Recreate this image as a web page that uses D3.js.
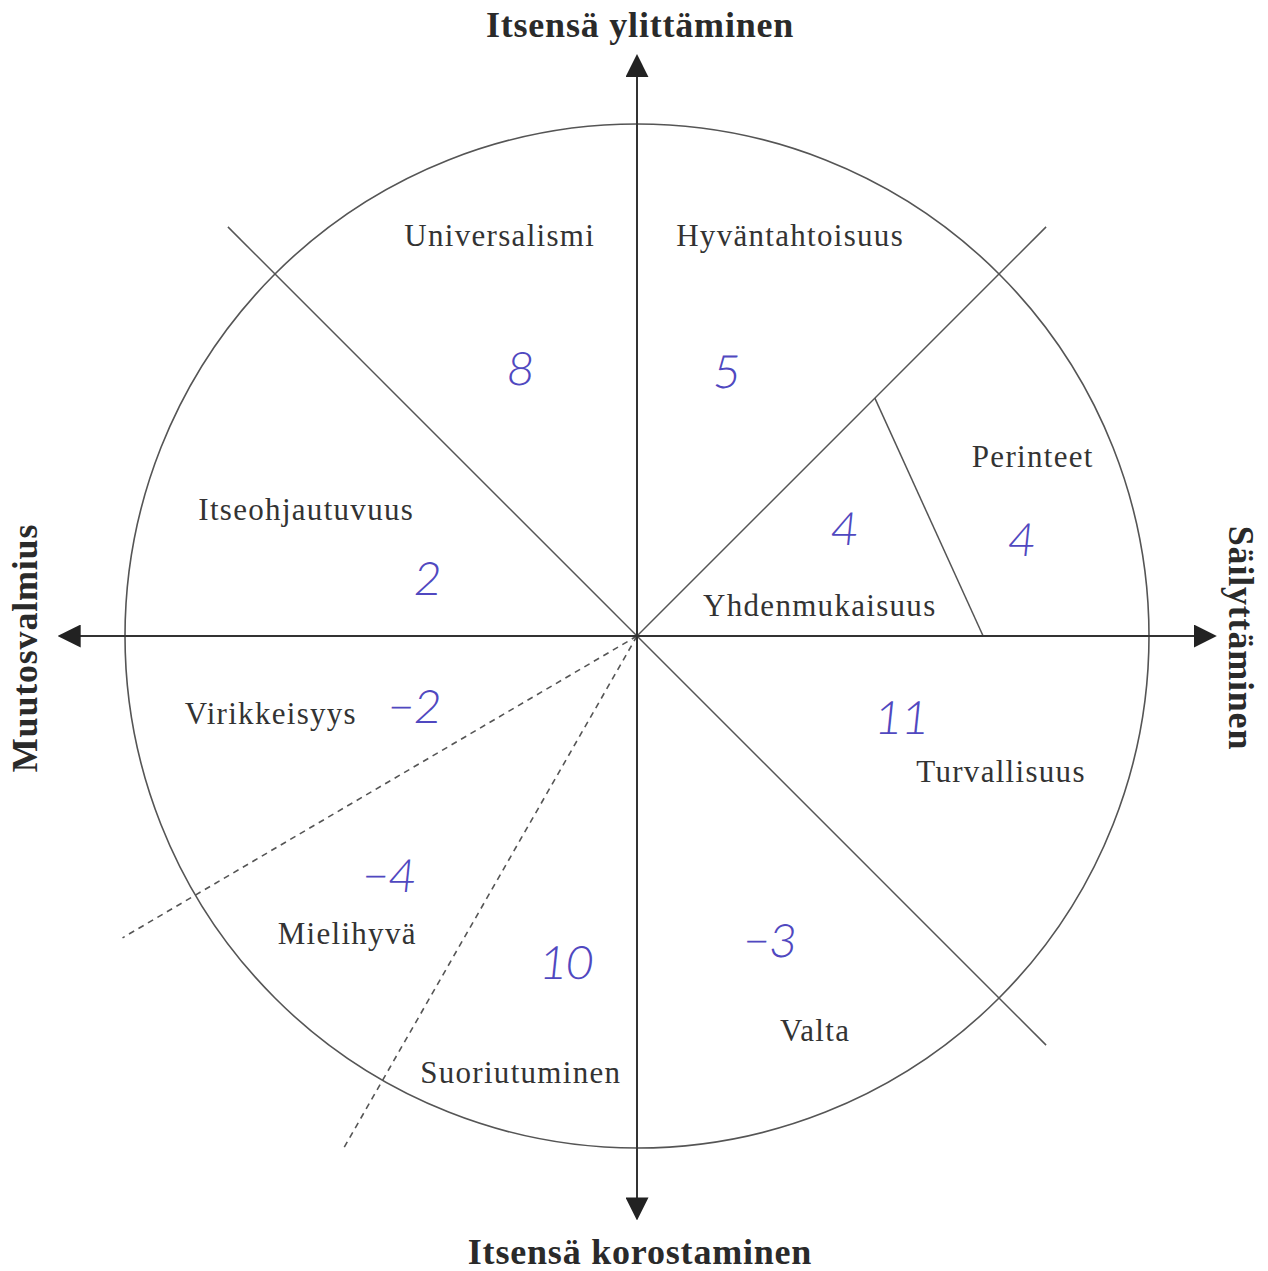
<!DOCTYPE html>
<html>
<head>
<meta charset="utf-8">
<script src="https://cdn.jsdelivr.net/npm/d3@7"></script>
<style>
  body { margin: 0; background: #fff; }
  svg { display: block; }
</style>
</head>
<body>
<div id="chart"></div>
<script>
(function(){
    "use strict";

    // values of the circle and the handwritten scores
    var valueNames = ["Universalismi", "Hyväntahtoisuus", "Itseohjautuvuus", "Perinteet", "Yhdenmukaisuus",
                      "Virikkeisyys", "Turvallisuus", "Mielihyvä", "Suoriutuminen", "Valta"];
    var valueScores = [8, 5, 2, 4, 4, -2, 11, -4, 10, -3];

    // the four axis poles (top, bottom, left, right)
    var poleNames = ["Itsensä ylittäminen", "Itsensä korostaminen", "Muutosvalmius", "Säilyttäminen"];

    // layout: where labels / numbers sit, in circle units (x right, y up)
    var labelPos = [[-0.268, 0.783], [0.299, 0.783], [-0.646, 0.248], [0.773, 0.352], [0.357, 0.061],
                    [-0.715, -0.150], [0.711, -0.264], [-0.566, -0.580], [-0.227, -0.852], [0.348, -0.770]];
    var scorePos = [[-0.227, 0.523], [0.176, 0.516], [-0.408, 0.113], [0.406, 0.211], [0.752, 0.188],
                    [-0.434, -0.137], [0.518, -0.160], [-0.484, -0.467], [-0.137, -0.637], [0.260, -0.594]];

    var width = 1268, height = 1271;
    var cx = 637, cy = 636, R = 512;

    var x = d3.scaleLinear().domain([-1, 1]).range([cx - R, cx + R]);
    var y = d3.scaleLinear().domain([1, -1]).range([cy - R, cy + R]);

    function polar(deg, r) {
        var a = deg * Math.PI / 180;
        return [x(r * Math.cos(a)), y(r * Math.sin(a))];
    }

    var svg = d3.select("#chart").append("svg")
        .attr("width", width)
        .attr("height", height);

    // arrow head for the axes
    svg.append("defs").append("marker")
        .attr("id", "arrow")
        .attr("viewBox", "0 0 10 10")
        .attr("refX", 9).attr("refY", 5)
        .attr("markerWidth", 23).attr("markerHeight", 23)
        .attr("markerUnits", "userSpaceOnUse")
        .attr("orient", "auto")
        .append("path")
        .attr("d", "M0,0 L10,5 L0,10 Z")
        .attr("fill", "#222");

    // circle
    svg.append("circle")
        .attr("cx", x(0)).attr("cy", y(0))
        .attr("r", x(1) - x(0))
        .attr("fill", "none")
        .attr("stroke", "#555")
        .attr("stroke-width", 1.6);

    // solid dividers
    var solid = [
        [polar(135, 1.13), polar(-45, 1.13)],
        [polar(0, 0), polar(45, 1.13)],
        [polar(45, 0.657), polar(0, 0.676)]
    ];
    svg.selectAll(".divider")
        .data(solid)
        .enter().append("line")
        .attr("class", "divider")
        .attr("x1", function(d) { return d[0][0]; })
        .attr("y1", function(d) { return d[0][1]; })
        .attr("x2", function(d) { return d[1][0]; })
        .attr("y2", function(d) { return d[1][1]; })
        .attr("stroke", "#555")
        .attr("stroke-width", 1.5);

    // dashed dividers
    var dashed = [[210.4, 1.165], [240.2, 1.16]];
    svg.selectAll(".dashed")
        .data(dashed)
        .enter().append("line")
        .attr("class", "dashed")
        .attr("x1", x(0)).attr("y1", y(0))
        .attr("x2", function(d) { return polar(d[0], d[1])[0]; })
        .attr("y2", function(d) { return polar(d[0], d[1])[1]; })
        .attr("stroke", "#555")
        .attr("stroke-width", 1.6)
        .attr("stroke-dasharray", "6,5");

    // axes with arrows
    var axes = [[90, 1.132], [270, 1.137], [180, 1.127], [0, 1.128]];
    svg.selectAll(".axis")
        .data(axes)
        .enter().append("line")
        .attr("class", "axis")
        .attr("x1", x(0)).attr("y1", y(0))
        .attr("x2", function(d) { return polar(d[0], d[1])[0]; })
        .attr("y2", function(d) { return polar(d[0], d[1])[1]; })
        .attr("stroke", "#333")
        .attr("stroke-width", 2)
        .attr("marker-end", "url(#arrow)");

    // pole titles
    var serif = "'Liberation Serif', 'Times New Roman', serif";
    var poles = [
        {t: poleNames[0], x: x(0) + 3, y: 37, rot: 0},
        {t: poleNames[1], x: x(0) + 3, y: 1264, rot: 0},
        {t: poleNames[2], x: 37, y: 648, rot: -90},
        {t: poleNames[3], x: 1229, y: 638, rot: 90}
    ];
    svg.selectAll(".pole")
        .data(poles)
        .enter().append("text")
        .attr("class", "pole")
        .attr("transform", function(d) { return "translate(" + d.x + "," + d.y + ") rotate(" + d.rot + ")"; })
        .attr("text-anchor", "middle")
        .attr("font-family", serif)
        .attr("font-weight", "bold")
        .attr("font-size", 36)
        .attr("letter-spacing", 0.8)
        .attr("fill", "#2a2a2a")
        .text(function(d) { return d.t; });

    // value labels
    svg.selectAll(".vlabel")
        .data(valueNames)
        .enter().append("text")
        .attr("class", "vlabel")
        .attr("x", function(d, i) { return x(labelPos[i][0]); })
        .attr("y", function(d, i) { return y(labelPos[i][1]); })
        .attr("dy", "0.35em")
        .attr("text-anchor", "middle")
        .attr("font-family", serif)
        .attr("font-size", 31)
        .attr("letter-spacing", 1.3)
        .attr("fill", "#333")
        .text(function(d) { return d; });

    // handwritten scores
    var fmt = d3.format("d");
    svg.selectAll(".score")
        .data(valueScores)
        .enter().append("text")
        .attr("class", "score")
        .attr("transform", function(d, i) {
            return "translate(" + x(scorePos[i][0]) + "," + y(scorePos[i][1]) + ") skewX(-6)";
        })
        .attr("dy", "0.36em")
        .attr("text-anchor", "middle")
        .attr("font-family", "Lato, 'Open Sans', sans-serif")
        .attr("font-weight", 300)
        .attr("font-size", 46)
        .attr("fill", "#5048c0")
        .text(function(d) { return fmt(d); });
})();
</script>
</body>
</html>
